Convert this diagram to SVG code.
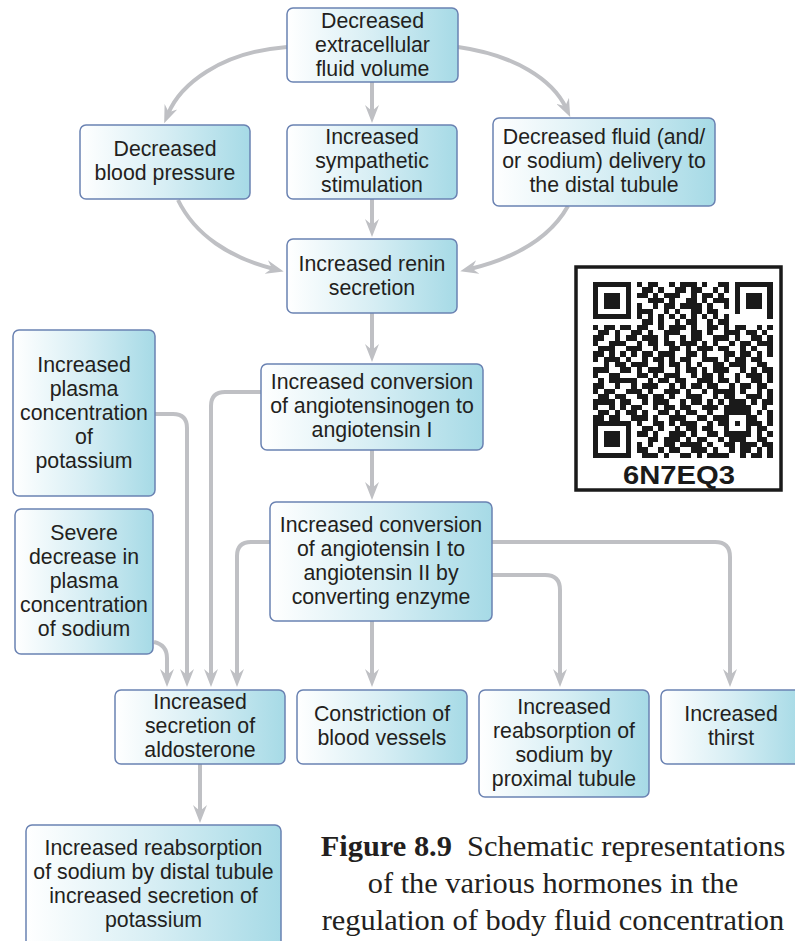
<svg xmlns="http://www.w3.org/2000/svg" width="795" height="941" viewBox="0 0 795 941">
<defs>
<linearGradient id="g" x1="0" y1="0" x2="1" y2="0">
<stop offset="0" stop-color="#ffffff"/>
<stop offset="0.5" stop-color="#d7eef4"/>
<stop offset="1" stop-color="#a6dae6"/>
</linearGradient>
<marker id="ah" markerUnits="userSpaceOnUse" markerWidth="18" markerHeight="14" viewBox="0 0 18 14" refX="8" refY="7" orient="auto">
<path d="M0,0 L18,7 L0,14 L6,7 Z" fill="#bfc0c4"/>
</marker>
<style>
.box{fill:url(#g);stroke:#6a82b2;stroke-width:1.5}
.t{font-family:"Liberation Sans",Arial,sans-serif;font-size:21.3px;fill:#231f20;text-anchor:middle}
.c{fill:none;stroke:#bfc0c4;stroke-width:4;marker-end:url(#ah)}
.cap{font-family:"Liberation Serif","Times New Roman",serif;font-size:30.4px;fill:#231f20;text-anchor:middle}
.q{stroke:#1a1a1a;stroke-width:1;fill:none}
</style>
</defs>
<rect width="795" height="941" fill="#ffffff"/>

<g id="connectors">
<path class="c" d="M287 47 C220 52 180 85 168 114"/>
<path class="c" d="M372 82 V113"/>
<path class="c" d="M458 47 C515 55 553 80 566 108"/>
<path class="c" d="M178 200 C195 235 230 258 274 269"/>
<path class="c" d="M372 199 V227"/>
<path class="c" d="M568 206 C550 238 515 258 470 269"/>
<path class="c" d="M372 313 V352"/>
<path class="c" d="M372 450 V490"/>
<path class="c" d="M372 621 V677"/>
<path class="c" d="M492 542 H715 Q730 542 730 557 V677"/>
<path class="c" d="M492 575 H545 Q560 575 560 590 V677"/>
<path class="c" d="M270 542 H251 Q237 542 237 556 V677"/>
<path class="c" d="M261 392 H225 Q211 392 211 406 V677"/>
<path class="c" d="M155 414 H173 Q187 414 187 428 V677"/>
<path class="c" d="M154 642 Q167 645 167 658 V677"/>
<path class="c" d="M200 764 V813"/>
</g>

<g id="n1"><rect class="box" x="287" y="8" width="171" height="74" rx="6"/>
<text class="t" x="372.5" y="28">Decreased</text><text class="t" x="372.5" y="52">extracellular</text><text class="t" x="372.5" y="76">fluid volume</text></g>

<g id="n2"><rect class="box" x="80" y="125" width="170" height="74" rx="6"/>
<text class="t" x="165" y="156">Decreased</text><text class="t" x="165" y="180">blood pressure</text></g>

<g id="n3"><rect class="box" x="287" y="125" width="170" height="74" rx="6"/>
<text class="t" x="372" y="144">Increased</text><text class="t" x="372" y="168">sympathetic</text><text class="t" x="372" y="192">stimulation</text></g>

<g id="n4"><rect class="box" x="493" y="118" width="222" height="88" rx="6"/>
<text class="t" x="604" y="144">Decreased fluid (and/</text><text class="t" x="604" y="168">or sodium) delivery to</text><text class="t" x="604" y="192">the distal tubule</text></g>

<g id="n5"><rect class="box" x="287" y="239" width="170" height="74" rx="6"/>
<text class="t" x="372" y="271">Increased renin</text><text class="t" x="372" y="295">secretion</text></g>

<g id="n6"><rect class="box" x="261" y="364" width="222" height="86" rx="6"/>
<text class="t" x="372" y="389">Increased conversion</text><text class="t" x="372" y="413">of angiotensinogen to</text><text class="t" x="372" y="437">angiotensin I</text></g>

<g id="n7"><rect class="box" x="13" y="330" width="142" height="166" rx="6"/>
<text class="t" x="84" y="372">Increased</text><text class="t" x="84" y="396">plasma</text><text class="t" x="84" y="420">concentration</text><text class="t" x="84" y="444">of</text><text class="t" x="84" y="468">potassium</text></g>

<g id="n8"><rect class="box" x="15" y="509" width="138" height="145" rx="6"/>
<text class="t" x="84" y="540">Severe</text><text class="t" x="84" y="564">decrease in</text><text class="t" x="84" y="588">plasma</text><text class="t" x="84" y="612">concentration</text><text class="t" x="84" y="636">of sodium</text></g>

<g id="n9"><rect class="box" x="270" y="502" width="222" height="119" rx="6"/>
<text class="t" x="381" y="532">Increased conversion</text><text class="t" x="381" y="556">of angiotensin I to</text><text class="t" x="381" y="580">angiotensin II by</text><text class="t" x="381" y="604">converting enzyme</text></g>

<g id="n10"><rect class="box" x="115" y="690" width="170" height="74" rx="6"/>
<text class="t" x="200" y="709">Increased</text><text class="t" x="200" y="733">secretion of</text><text class="t" x="200" y="757">aldosterone</text></g>

<g id="n11"><rect class="box" x="297" y="690" width="170" height="74" rx="6"/>
<text class="t" x="382" y="721">Constriction of</text><text class="t" x="382" y="745">blood vessels</text></g>

<g id="n12"><rect class="box" x="479" y="690" width="170" height="107" rx="6"/>
<text class="t" x="564" y="714">Increased</text><text class="t" x="564" y="738">reabsorption of</text><text class="t" x="564" y="762">sodium by</text><text class="t" x="564" y="786">proximal tubule</text></g>

<g id="n13"><rect class="box" x="661" y="690" width="140" height="74" rx="6"/>
<text class="t" x="731" y="721">Increased</text><text class="t" x="731" y="745">thirst</text></g>

<g id="n14"><rect class="box" x="26" y="825" width="255" height="130" rx="6"/>
<text class="t" x="153.5" y="855">Increased reabsorption</text><text class="t" x="153.5" y="879">of sodium by distal tubule</text><text class="t" x="153.5" y="903">increased secretion of</text><text class="t" x="153.5" y="927">potassium</text></g>

<g id="qr">
<rect x="576" y="267" width="205" height="223" fill="#ffffff" stroke="#1a1a1a" stroke-width="3.5"/>
<g transform="translate(593,282) scale(5.45,5.33)" shape-rendering="crispEdges">
<line class="q" x1="0" x2="33" y1="0.5" y2="0.5" stroke-dasharray="7 1 1 1 2 2 1 1 3 1 1 2 2 1 7"/>
<line class="q" x1="0" x2="33" y1="1.5" y2="1.5" stroke-dasharray="1 5 1 2 2 1 1 2 2 1 2 2 1 1 1 1 1 5 1"/>
<line class="q" x1="0" x2="33" y1="2.5" y2="2.5" stroke-dasharray="1 1 3 1 1 1 2 1 1 1 3 2 1 1 2 1 1 2 1 1 3 1 1"/>
<line class="q" x1="0" x2="33" y1="3.5" y2="3.5" stroke-dasharray="1 1 3 1 1 3 3 1 1 2 2 1 1 1 3 1 1 1 3 1 1"/>
<line class="q" x1="0" x2="33" y1="4.5" y2="4.5" stroke-dasharray="1 1 3 1 1 1 1 2 1 1 2 1 4 1 1 2 1 1 1 1 3 1 1"/>
<line class="q" x1="0" x2="33" y1="5.5" y2="5.5" stroke-dasharray="1 5 1 1 3 2 1 1 1 2 2 1 2 3 1 5 1"/>
<line class="q" x1="0" x2="33" y1="6.5" y2="6.5" stroke-dasharray="7 1 1 1 1 1 1 1 1 1 1 1 1 1 1 1 1 1 1 7"/>
<line class="q" x1="0" x2="33" y1="7.5" y2="7.5" stroke-dasharray="0 9 2 1 1 2 1 1 2 2 1 1 2 8"/>
<line class="q" x1="0" x2="33" y1="8.5" y2="8.5" stroke-dasharray="1 1 2 1 2 1 2 2 1 1 3 1 1 2 2 1 1 1 2 2 1 1 1"/>
<line class="q" x1="0" x2="33" y1="9.5" y2="9.5" stroke-dasharray="0 1 2 1 1 2 2 1 1 2 3 2 2 1 1 2 3 1 2 1 1 1"/>
<line class="q" x1="0" x2="33" y1="10.5" y2="10.5" stroke-dasharray="2 2 1 1 2 1 3 1 1 2 1 1 2 2 3 1 1 2 2 1 1"/>
<line class="q" x1="0" x2="33" y1="11.5" y2="11.5" stroke-dasharray="1 2 3 2 1 1 2 1 2 1 3 1 1 1 1 2 1 1 2 1 3"/>
<line class="q" x1="0" x2="33" y1="12.5" y2="12.5" stroke-dasharray="0 1 3 2 3 2 1 2 2 1 1 1 3 1 2 2 1 1 1 2 1"/>
<line class="q" x1="0" x2="33" y1="13.5" y2="13.5" stroke-dasharray="2 1 1 1 1 1 1 1 2 1 3 2 2 1 1 3 2 1 2 1 1 1 1"/>
<line class="q" x1="0" x2="33" y1="14.5" y2="14.5" stroke-dasharray="1 1 3 1 1 2 1 1 2 1 1 1 2 2 3 1 1 1 2 1 2 2"/>
<line class="q" x1="0" x2="33" y1="15.5" y2="15.5" stroke-dasharray="0 2 1 1 2 1 3 2 1 1 2 1 1 1 1 2 2 1 3 2 2 1"/>
<line class="q" x1="0" x2="33" y1="16.5" y2="16.5" stroke-dasharray="3 2 2 1 1 1 3 2 1 1 2 1 1 1 3 2 1 1 1 1 2"/>
<line class="q" x1="0" x2="33" y1="17.5" y2="17.5" stroke-dasharray="1 2 2 3 2 1 1 1 3 2 1 1 2 1 1 2 1 1 3 1 1"/>
<line class="q" x1="0" x2="33" y1="18.5" y2="18.5" stroke-dasharray="0 1 1 1 5 2 1 1 2 1 2 2 3 1 2 1 1 2 2 1 1"/>
<line class="q" x1="0" x2="33" y1="19.5" y2="19.5" stroke-dasharray="2 2 1 2 1 1 3 2 1 1 1 1 2 1 2 2 1 1 2 1 2 1"/>
<line class="q" x1="0" x2="33" y1="20.5" y2="20.5" stroke-dasharray="1 1 2 2 3 1 1 2 3 1 1 2 1 1 4 1 1 2 1 1 1"/>
<line class="q" x1="0" x2="33" y1="21.5" y2="21.5" stroke-dasharray="0 1 2 1 2 2 2 1 2 1 1 2 3 2 1 1 2 2 3 1 1"/>
<line class="q" x1="0" x2="33" y1="22.5" y2="22.5" stroke-dasharray="4 1 2 2 1 1 3 2 1 1 2 1 1 1 1 1 3 1 1 1 2"/>
<line class="q" x1="0" x2="33" y1="23.5" y2="23.5" stroke-dasharray="1 2 1 1 1 1 2 2 1 1 2 1 2 2 3 1 5 2 1 1"/>
<line class="q" x1="0" x2="33" y1="24.5" y2="24.5" stroke-dasharray="0 1 2 1 1 1 2 1 1 2 2 1 1 1 2 2 1 2 5 1 1 1 1"/>
<line class="q" x1="0" x2="33" y1="25.5" y2="25.5" stroke-dasharray="2 1 2 2 3 1 1 2 3 2 2 1 3 3 2 2 1"/>
<line class="q" x1="0" x2="33" y1="26.5" y2="26.5" stroke-dasharray="7 1 1 2 2 1 1 1 3 2 1 1 2 1 1 1 3 1 1"/>
<line class="q" x1="0" x2="33" y1="27.5" y2="27.5" stroke-dasharray="1 5 1 2 2 1 1 2 1 1 2 1 2 2 1 3 1 1 2 1"/>
<line class="q" x1="0" x2="33" y1="28.5" y2="28.5" stroke-dasharray="1 1 3 1 1 1 2 1 1 2 3 1 1 2 2 1 5 1 1 1 1"/>
<line class="q" x1="0" x2="33" y1="29.5" y2="29.5" stroke-dasharray="1 1 3 1 1 3 2 1 3 1 1 1 2 2 1 1 3 2 2 1"/>
<line class="q" x1="0" x2="33" y1="30.5" y2="30.5" stroke-dasharray="1 1 3 1 1 1 1 1 1 2 2 1 4 1 1 2 2 1 3 1 2"/>
<line class="q" x1="0" x2="33" y1="31.5" y2="31.5" stroke-dasharray="1 5 1 1 2 2 1 1 2 2 3 1 1 2 1 1 2 1 1 1 1"/>
<line class="q" x1="0" x2="33" y1="32.5" y2="32.5" stroke-dasharray="7 2 3 1 1 2 2 1 1 1 4 2 1 1 2 1 1"/>
</g>
<text x="679" y="484" font-family="'Liberation Sans',Arial,sans-serif" font-size="26" font-weight="bold" fill="#1a1a1a" text-anchor="middle" textLength="112" lengthAdjust="spacingAndGlyphs">6N7EQ3</text>
</g>

<g id="caption">
<text class="cap" x="553" y="856"><tspan font-weight="bold">Figure 8.9</tspan>&#160; Schematic representations</text>
<text class="cap" x="553" y="893">of the various hormones in the</text>
<text class="cap" x="553" y="930">regulation of body fluid concentration</text>
</g>
</svg>
